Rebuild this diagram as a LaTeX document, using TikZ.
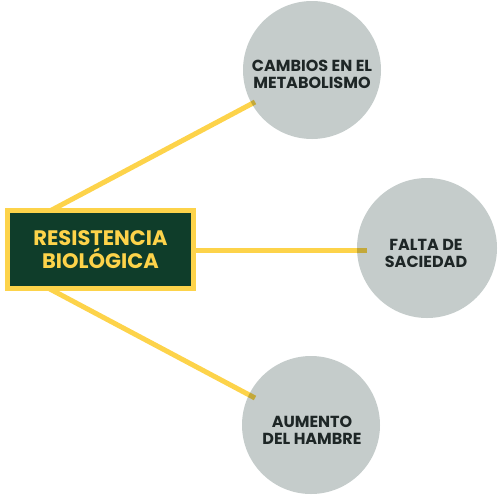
\documentclass[tikz,border=0pt]{standalone}
\usepackage{fontspec}
\setmainfont{Poppins}
\usetikzlibrary{calc}
\definecolor{boxgreen}{HTML}{0F3D2A}
\definecolor{lineyellow}{HTML}{FDD34A}
\definecolor{circgray}{HTML}{C5CCCB}
\definecolor{txtdark}{HTML}{1E2626}
\tikzset{
  bubble/.style={circle, fill=circgray, minimum size=#1, inner sep=0pt},
  bubbletext/.style={text=txtdark, font=\fontsize{16}{17}\selectfont\bfseries,
    align=center, inner sep=0pt},
  mainbox/.style={draw=lineyellow, line width=5pt, fill=boxgreen,
    minimum width=186pt, minimum height=78pt, inner sep=0pt,
    text=lineyellow, font=\fontsize{21}{23}\selectfont\bfseries, align=center},
  link/.style={draw=lineyellow, line width=5pt}
}
\begin{document}
\begin{tikzpicture}[x=1pt,y=-1pt]
\useasboundingbox (0,0) rectangle (500,499);
\node[bubble=138pt] (c1) at (312,70) {};
\node[bubble=140pt] (c2) at (427,248) {};
\node[bubble=138pt] (c3) at (311,425) {};
\node[bubbletext] (t1) at ($(c1)+(0,4)$) {CAMBIOS EN EL\\METABOLISMO};
\node[bubbletext] (t2) at ($(c2)+(-1,5)$) {FALTA DE\\SACIEDAD};
\node[bubbletext] (t3) at ($(c3)+(1,5)$) {AUMENTO\\DEL HAMBRE};
\coordinate (e1) at (255,102);
\coordinate (e2) at (367,250);
\coordinate (e3) at (255,398);
\coordinate (s1) at (48,212);
\coordinate (s2) at (190,250);
\coordinate (s3) at (48,288);
\begin{scope}[blend mode=multiply]
\draw[link] (s1) -- (e1);
\draw[link] (s2) -- (e2);
\draw[link] (s3) -- (e3);
\end{scope}
\node[mainbox] (box) at (100.5,249.5) {RESISTENCIA\\BIOLÓGICA};
\end{tikzpicture}
\end{document}
